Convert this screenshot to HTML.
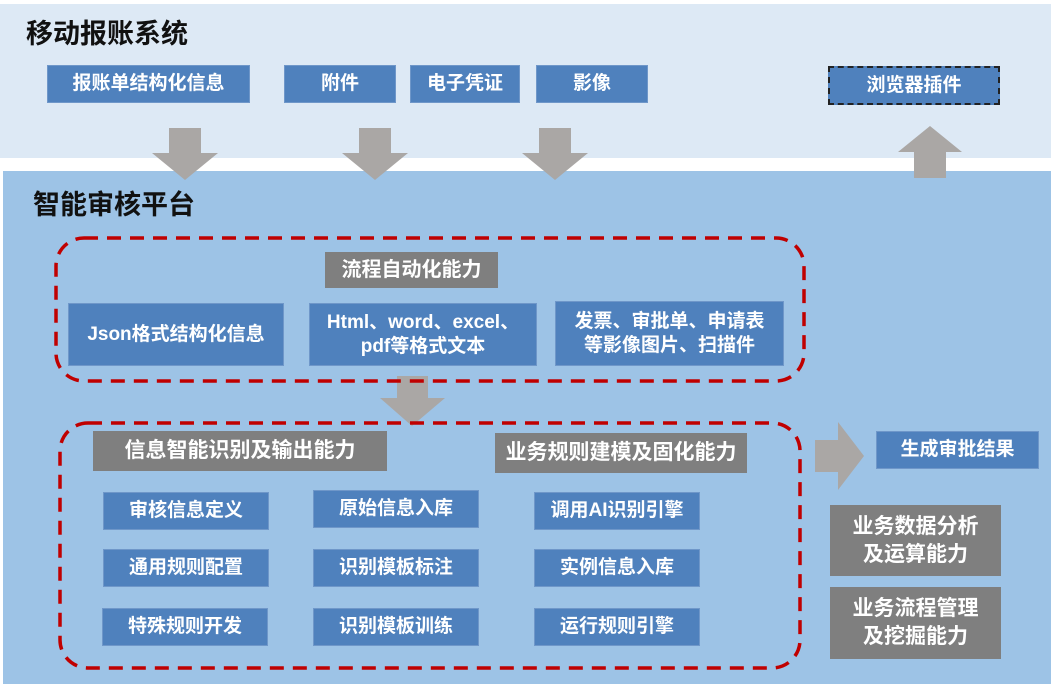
<!DOCTYPE html>
<html><head><meta charset="utf-8"><style>
body{margin:0;width:1051px;height:684px;position:relative;overflow:hidden;background:#fff;font-family:"Liberation Sans","Noto Sans CJK SC",sans-serif;font-weight:bold}
.a{position:absolute}
.b{position:absolute;background:#4f81bd;color:#fff;display:flex;align-items:center;justify-content:center;text-align:center;font-size:19px;line-height:24px;border:1px solid #6f97c9;box-sizing:border-box}
.g{position:absolute;background:#7f7f7f;color:#fff;display:flex;align-items:center;justify-content:center;text-align:center;font-size:21px;line-height:28px;box-sizing:border-box}
.t{position:absolute;font-size:27px;color:#111}
</style></head><body>
<div class="a" style="left:0;top:4px;width:1051px;height:154px;background:#dde9f5"></div>
<div class="a" style="left:3px;top:171px;width:1048px;height:513px;background:#9dc3e6"></div>
<div class="t" style="left:26px;top:12px">移动报账系统</div>
<div class="t" style="left:33px;top:183px">智能审核平台</div>
<div class="b" style="left:47px;top:65px;width:203px;height:38px">报账单结构化信息</div>
<div class="b" style="left:284px;top:65px;width:112px;height:38px">附件</div>
<div class="b" style="left:410px;top:65px;width:110px;height:38px">电子凭证</div>
<div class="b" style="left:536px;top:65px;width:112px;height:38px">影像</div>
<div class="b" style="left:828px;top:66px;width:172px;height:39px;border:2px dashed #222">浏览器插件</div>
<svg class="a" style="left:0;top:0" width="1051" height="684">
<g fill="#aaa7a5">
<polygon points="169,128 201,128 201,153 218,153 185,180 152,153 169,153"/>
<polygon points="359,128 391,128 391,153 408,153 375,180 342,153 359,153"/>
<polygon points="539,128 571,128 571,153 588,153 555,180 522,153 539,153"/>
<polygon points="914,178 946,178 946,152 962,152 930,126 898,152 914,152"/>
<polygon points="397,376 428,376 428,398 445,398 412,426 380,398 397,398"/>
<polygon points="815,440 838,440 838,422 864,456 838,490 838,472 815,472"/>
</g>
<rect x="56" y="238" width="748" height="143" rx="28" fill="none" stroke="#c00000" stroke-width="3.5" stroke-dasharray="14,9"/>
<rect x="60" y="423" width="740" height="245" rx="28" fill="none" stroke="#c00000" stroke-width="3.5" stroke-dasharray="14,9"/>
</svg>
<div class="g" style="left:325px;top:252px;width:173px;height:36px;font-size:20px">流程自动化能力</div>
<div class="b" style="left:68px;top:303px;width:216px;height:63px">Json格式结构化信息</div>
<div class="b" style="left:309px;top:303px;width:228px;height:63px">Html、word、excel、<br>pdf等格式文本</div>
<div class="b" style="left:555px;top:301px;width:229px;height:65px">发票、审批单、申请表<br>等影像图片、扫描件</div>
<div class="g" style="left:93px;top:431px;width:294px;height:40px">信息智能识别及输出能力</div>
<div class="g" style="left:495px;top:433px;width:252px;height:40px">业务规则建模及固化能力</div>
<div class="b" style="left:103px;top:492px;width:166px;height:38px">审核信息定义</div>
<div class="b" style="left:313px;top:490px;width:166px;height:38px">原始信息入库</div>
<div class="b" style="left:534px;top:492px;width:166px;height:38px">调用AI识别引擎</div>
<div class="b" style="left:103px;top:549px;width:166px;height:38px">通用规则配置</div>
<div class="b" style="left:313px;top:549px;width:166px;height:38px">识别模板标注</div>
<div class="b" style="left:534px;top:549px;width:166px;height:38px">实例信息入库</div>
<div class="b" style="left:102px;top:608px;width:166px;height:38px">特殊规则开发</div>
<div class="b" style="left:313px;top:608px;width:166px;height:38px">识别模板训练</div>
<div class="b" style="left:534px;top:608px;width:166px;height:38px">运行规则引擎</div>
<div class="b" style="left:876px;top:431px;width:163px;height:38px">生成审批结果</div>
<div class="g" style="left:830px;top:505px;width:171px;height:71px">业务数据分析<br>及运算能力</div>
<div class="g" style="left:830px;top:587px;width:171px;height:72px">业务流程管理<br>及挖掘能力</div>
</body></html>
